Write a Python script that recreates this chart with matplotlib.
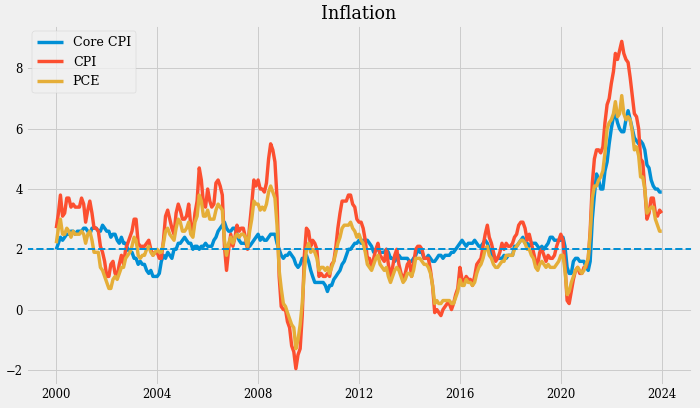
import numpy as np
import pandas as pd
import matplotlib
matplotlib.use("Agg")
import matplotlib.pyplot as plt

# year-over-year inflation, monthly, Jan 2000 .. Jan 2024
dates = pd.date_range("2000-01-01", "2024-01-01", freq="MS")

core_cpi = [
    2.0, 2.2, 2.4, 2.3, 2.4, 2.5, 2.5, 2.6, 2.6, 2.5, 2.6, 2.6,
    2.6, 2.7, 2.7, 2.6, 2.5, 2.7, 2.7, 2.7, 2.6, 2.6, 2.8, 2.7,
    2.6, 2.6, 2.4, 2.5, 2.5, 2.3, 2.2, 2.4, 2.2, 2.2, 2.0, 1.9,
    1.9, 1.7, 1.7, 1.5, 1.6, 1.5, 1.5, 1.3, 1.2, 1.3, 1.1, 1.1,
    1.1, 1.2, 1.6, 1.8, 1.7, 1.9, 1.8, 1.7, 2.0, 2.0, 2.2, 2.2,
    2.3, 2.4, 2.3, 2.2, 2.2, 2.0, 2.1, 2.1, 2.0, 2.1, 2.1, 2.2,
    2.1, 2.1, 2.1, 2.3, 2.4, 2.6, 2.7, 2.8, 2.9, 2.7, 2.6, 2.6,
    2.7, 2.7, 2.5, 2.3, 2.2, 2.2, 2.2, 2.1, 2.1, 2.2, 2.3, 2.4,
    2.5, 2.3, 2.4, 2.3, 2.3, 2.4, 2.5, 2.5, 2.5, 2.2, 2.0, 1.8,
    1.7, 1.8, 1.8, 1.9, 1.8, 1.7, 1.5, 1.4, 1.5, 1.7, 1.7, 1.8,
    1.6, 1.3, 1.1, 0.9, 0.9, 0.9, 0.9, 0.9, 0.8, 0.6, 0.8, 0.8,
    1.0, 1.1, 1.2, 1.3, 1.5, 1.6, 1.8, 2.0, 2.0, 2.1, 2.2, 2.2,
    2.3, 2.2, 2.3, 2.3, 2.3, 2.2, 2.1, 1.9, 2.0, 2.0, 1.9, 1.9,
    1.9, 2.0, 1.9, 1.7, 1.7, 1.6, 1.7, 1.8, 1.7, 1.7, 1.7, 1.7,
    1.6, 1.6, 1.7, 1.8, 2.0, 1.9, 1.9, 1.7, 1.7, 1.8, 1.7, 1.6,
    1.6, 1.7, 1.8, 1.8, 1.7, 1.8, 1.8, 1.8, 1.9, 1.9, 2.0, 2.1,
    2.2, 2.3, 2.2, 2.1, 2.2, 2.2, 2.2, 2.3, 2.2, 2.1, 2.1, 2.2,
    2.3, 2.2, 2.0, 1.9, 1.7, 1.7, 1.7, 1.7, 1.7, 1.8, 1.7, 1.8,
    1.8, 1.8, 2.1, 2.1, 2.2, 2.3, 2.4, 2.2, 2.2, 2.1, 2.2, 2.2,
    2.2, 2.1, 2.0, 2.1, 2.0, 2.1, 2.2, 2.4, 2.4, 2.3, 2.3, 2.3,
    2.3, 2.4, 2.1, 1.4, 1.2, 1.2, 1.6, 1.7, 1.7, 1.6, 1.6, 1.6,
    1.4, 1.3, 1.6, 3.0, 3.8, 4.5, 4.3, 4.0, 4.0, 4.6, 4.9, 5.5,
    6.0, 6.4, 6.5, 6.2, 6.0, 5.9, 5.9, 6.3, 6.6, 6.3, 6.0, 5.7,
    5.6, 5.5, 5.6, 5.5, 5.3, 4.8, 4.7, 4.3, 4.1, 4.0, 4.0, 3.9,
    3.9,
]

cpi = [
    2.7, 3.2, 3.8, 3.1, 3.2, 3.7, 3.7, 3.4, 3.5, 3.4, 3.4, 3.4,
    3.7, 3.5, 2.9, 3.3, 3.6, 3.2, 2.7, 2.7, 2.6, 2.1, 1.9, 1.6,
    1.1, 1.1, 1.5, 1.6, 1.2, 1.1, 1.5, 1.8, 1.5, 2.0, 2.2, 2.4,
    2.6, 3.0, 3.0, 2.2, 2.1, 2.1, 2.1, 2.2, 2.3, 2.0, 1.8, 1.9,
    1.9, 1.7, 1.7, 2.3, 3.1, 3.3, 3.0, 2.7, 2.5, 3.2, 3.5, 3.3,
    3.0, 3.0, 3.1, 3.5, 2.8, 2.5, 3.2, 3.6, 4.7, 4.3, 3.5, 3.4,
    4.0, 3.6, 3.4, 3.5, 4.2, 4.3, 4.1, 3.8, 2.1, 1.3, 2.0, 2.5,
    2.1, 2.4, 2.8, 2.6, 2.7, 2.7, 2.4, 2.0, 2.8, 3.5, 4.3, 4.1,
    4.3, 4.0, 4.0, 3.9, 4.2, 5.0, 5.5, 5.3, 4.9, 3.7, 1.1, 0.1,
    0.0, 0.0, -0.4, -0.6, -1.2, -1.4, -1.96, -1.5, -1.3, -0.2, 1.8, 2.7,
    2.6, 2.1, 2.3, 2.2, 2.0, 1.1, 1.2, 1.1, 1.1, 1.2, 1.1, 1.5,
    1.6, 2.1, 2.7, 3.2, 3.6, 3.6, 3.6, 3.8, 3.8, 3.5, 3.4, 3.0,
    2.9, 2.9, 2.7, 2.3, 1.7, 1.7, 1.4, 1.7, 2.0, 2.2, 1.8, 1.7,
    1.6, 2.0, 1.5, 1.1, 1.4, 1.8, 2.0, 1.5, 1.2, 1.0, 1.2, 1.5,
    1.6, 1.1, 1.5, 2.0, 2.1, 2.1, 2.0, 1.7, 1.7, 1.7, 1.3, 0.8,
    -0.1, 0.0, -0.1, -0.2, 0.0, 0.1, 0.2, 0.2, 0.0, 0.2, 0.5, 0.7,
    1.4, 1.0, 0.9, 1.1, 1.0, 1.0, 0.8, 1.1, 1.5, 1.6, 1.7, 2.1,
    2.5, 2.8, 2.4, 2.2, 1.9, 1.6, 1.7, 1.9, 2.2, 2.0, 2.2, 2.1,
    2.1, 2.2, 2.4, 2.5, 2.8, 2.9, 2.9, 2.7, 2.3, 2.5, 2.2, 1.9,
    1.6, 1.5, 1.9, 2.0, 1.8, 1.6, 1.8, 1.7, 1.7, 1.8, 2.1, 2.3,
    2.5, 2.3, 1.5, 0.3, 0.2, 0.6, 1.0, 1.3, 1.4, 1.2, 1.2, 1.4,
    1.4, 1.7, 2.6, 4.2, 5.0, 5.3, 5.3, 5.2, 5.4, 6.2, 6.8, 7.0,
    7.5, 7.9, 8.5, 8.3, 8.6, 8.9, 8.5, 8.3, 8.2, 7.7, 7.1, 6.5,
    6.4, 6.0, 5.0, 4.9, 4.0, 3.0, 3.2, 3.7, 3.7, 3.2, 3.1, 3.3,
    3.2,
]

pce = [
    2.2, 2.7, 3.0, 2.5, 2.5, 2.7, 2.6, 2.4, 2.6, 2.5, 2.5, 2.5,
    2.6, 2.5, 2.2, 2.5, 2.6, 2.3, 1.9, 1.9, 1.9, 1.4, 1.3, 1.1,
    0.9, 0.7, 0.7, 1.0, 1.1, 1.0, 1.2, 1.4, 1.4, 1.7, 1.8, 1.9,
    2.1, 2.4, 2.3, 1.8, 1.7, 1.8, 1.8, 2.0, 2.1, 1.9, 1.8, 1.9,
    2.0, 1.9, 1.9, 2.2, 2.6, 2.7, 2.5, 2.4, 2.3, 2.7, 3.0, 2.9,
    2.6, 2.6, 2.7, 2.9, 2.5, 2.4, 2.9, 3.1, 3.8, 3.6, 3.1, 3.1,
    3.3, 3.0, 3.0, 3.0, 3.3, 3.5, 3.4, 3.3, 2.3, 1.8, 2.2, 2.4,
    2.2, 2.4, 2.5, 2.4, 2.5, 2.5, 2.4, 2.1, 2.6, 3.0, 3.6, 3.5,
    3.5, 3.3, 3.4, 3.3, 3.5, 3.9, 4.1, 3.9, 3.7, 2.8, 1.3, 0.7,
    0.2, 0.1, -0.1, -0.3, -0.5, -0.6, -1.3, -1.0, -0.5, 0.2, 1.3, 2.0,
    2.2, 1.9, 2.0, 1.9, 1.7, 1.3, 1.4, 1.4, 1.3, 1.4, 1.2, 1.4,
    1.6, 1.9, 2.2, 2.4, 2.7, 2.8, 2.8, 2.8, 2.9, 2.7, 2.6, 2.4,
    2.5, 2.3, 2.2, 1.9, 1.5, 1.4, 1.3, 1.5, 1.7, 1.8, 1.5, 1.4,
    1.3, 1.4, 1.1, 0.9, 1.1, 1.3, 1.4, 1.3, 1.1, 0.9, 1.0, 1.2,
    1.2, 1.1, 1.3, 1.7, 1.7, 1.7, 1.6, 1.5, 1.5, 1.4, 1.2, 0.8,
    0.2, 0.3, 0.2, 0.2, 0.3, 0.3, 0.3, 0.3, 0.2, 0.2, 0.4, 0.6,
    1.0, 0.8, 0.8, 1.0, 0.9, 0.9, 0.8, 0.9, 1.2, 1.4, 1.5, 1.7,
    2.0, 2.1, 1.8, 1.7, 1.5, 1.4, 1.4, 1.5, 1.6, 1.6, 1.8, 1.8,
    1.8, 1.8, 2.0, 2.1, 2.2, 2.3, 2.3, 2.2, 2.0, 2.0, 1.8, 1.7,
    1.4, 1.3, 1.5, 1.6, 1.5, 1.4, 1.5, 1.4, 1.4, 1.4, 1.5, 1.6,
    1.8, 1.8, 1.3, 0.5, 0.6, 0.9, 1.1, 1.3, 1.4, 1.3, 1.2, 1.3,
    1.5, 1.7, 2.5, 3.7, 4.1, 4.1, 4.3, 4.4, 4.6, 5.2, 6.0, 6.2,
    6.3, 6.5, 6.9, 6.4, 6.5, 7.1, 6.5, 6.3, 6.4, 6.3, 5.9, 5.3,
    5.4, 5.1, 4.4, 4.4, 4.0, 3.2, 3.3, 3.4, 3.4, 3.0, 2.8, 2.6,
    2.6,
]

target = 2.0

plt.style.use("fivethirtyeight")
plt.rcParams["font.family"] = "serif"

fig, ax = plt.subplots(figsize=(10, 408 / 70), dpi=70)
ax.plot(dates, core_cpi, label="Core CPI", linewidth=3.5)
ax.plot(dates, cpi, label="CPI", linewidth=3.5)
ax.plot(dates, pce, label="PCE", linewidth=3.5)
ax.axhline(target, color="#008fd5", linestyle="--", linewidth=2)
ax.set_title("Inflation", fontsize=18)
ax.tick_params(labelsize=12)
ax.legend(loc="upper left", fontsize=13)
fig.subplots_adjust(left=26 / 700, right=692 / 700, top=1 - 25 / 408, bottom=1 - 385 / 408)
plt.savefig("out.png", dpi=70)
